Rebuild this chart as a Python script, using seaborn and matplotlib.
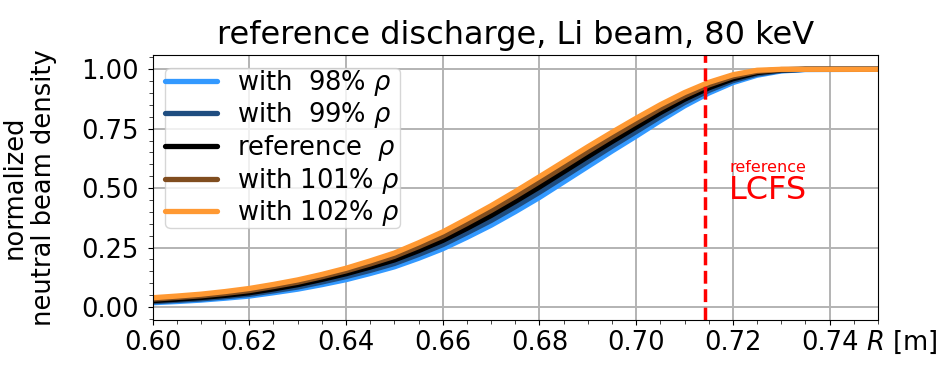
import numpy as np
import pandas as pd
import seaborn as sns
import matplotlib.pyplot as plt

# major radius [m]
R = [0.600, 0.605, 0.610, 0.615, 0.620, 0.625, 0.630, 0.635, 0.640, 0.645,
     0.650, 0.655, 0.660, 0.665, 0.670, 0.675, 0.680, 0.685, 0.690, 0.695,
     0.700, 0.705, 0.710, 0.715, 0.720, 0.725, 0.730, 0.735, 0.750]

# normalized neutral beam density
dens_98 = [0.018, 0.023, 0.029, 0.037, 0.046, 0.060, 0.075, 0.094, 0.115, 0.141,
           0.169, 0.205, 0.245, 0.293, 0.344, 0.401, 0.461, 0.526, 0.591, 0.656,
           0.719, 0.784, 0.846, 0.900, 0.944, 0.975, 0.993, 0.999, 1.000]
dens_99 = [0.022, 0.028, 0.034, 0.043, 0.053, 0.068, 0.084, 0.105, 0.128, 0.154,
           0.183, 0.221, 0.262, 0.312, 0.364, 0.422, 0.483, 0.547, 0.612, 0.676,
           0.738, 0.801, 0.860, 0.911, 0.952, 0.980, 0.995, 1.000, 1.000]
dens_ref = [0.027, 0.033, 0.040, 0.049, 0.060, 0.076, 0.094, 0.116, 0.140, 0.168,
            0.198, 0.237, 0.280, 0.331, 0.385, 0.444, 0.505, 0.569, 0.633, 0.696,
            0.757, 0.818, 0.874, 0.922, 0.960, 0.986, 0.998, 1.000, 1.000]
dens_101 = [0.033, 0.040, 0.047, 0.057, 0.069, 0.086, 0.104, 0.127, 0.152, 0.181,
            0.213, 0.254, 0.298, 0.351, 0.406, 0.465, 0.527, 0.590, 0.654, 0.716,
            0.776, 0.835, 0.888, 0.934, 0.969, 0.991, 0.999, 1.000, 1.000]
dens_102 = [0.039, 0.046, 0.054, 0.065, 0.078, 0.095, 0.114, 0.137, 0.163, 0.194,
            0.227, 0.270, 0.316, 0.370, 0.426, 0.486, 0.548, 0.611, 0.674, 0.735,
            0.794, 0.851, 0.902, 0.945, 0.977, 0.996, 1.000, 1.000, 1.000]

labels = ['with  98% $\\rho$', 'with  99% $\\rho$', 'reference  $\\rho$',
          'with 101% $\\rho$', 'with 102% $\\rho$']
colors = ['#3399ff', '#1f4d80', '#000000', '#804d1f', '#ff9933']
lcfs = 0.7142

df = pd.concat([pd.DataFrame({'R': R, 'n': d, 'case': lab})
                for d, lab in zip([dens_98, dens_99, dens_ref, dens_101, dens_102], labels)])

sns.set_style('ticks')
plt.rcParams['font.family'] = ['DejaVu Sans']
plt.rcParams['mathtext.fontset'] = 'dejavusans'
plt.rcParams['text.color'] = 'black'
plt.rcParams['axes.labelcolor'] = 'black'

fig = plt.figure(figsize=(9.42, 3.77), dpi=100)
ax = fig.add_axes([0.162, 0.151, 0.770, 0.703])

sns.lineplot(data=df, x='R', y='n', hue='case', hue_order=labels,
             palette=dict(zip(labels, colors)), estimator=None, sort=True,
             linewidth=3.8, ax=ax)

ax.axvline(lcfs, color='red', ls='--', lw=2.5)
ax.text(0.7273, 0.585, 'reference', color='red', fontsize=11.5, ha='center', va='center')
ax.text(0.7273, 0.49, 'LCFS', color='red', fontsize=23, ha='center', va='center')

ax.set_xlim(0.60, 0.75)
ax.set_ylim(-0.055, 1.06)
ax.set_xticks([0.60, 0.62, 0.64, 0.66, 0.68, 0.70, 0.72, 0.74])
ax.set_yticks([0.0, 0.25, 0.5, 0.75, 1.0])
ax.minorticks_on()
ax.grid(True, which='major', color='#b3b3b3', lw=1.4)
ax.tick_params(labelsize=18.5, colors='black')
ax.tick_params(axis='y', which='major', pad=6.5)
ax.tick_params(which='minor', length=3)
for s in ax.spines.values():
    s.set_color('black')

ax.set_xlabel('')
ax.set_ylabel('normalized\nneutral beam density', fontsize=18.5, labelpad=17)
ax.text(0.983, -0.035, '$R$ [m]', transform=ax.transAxes, fontsize=18.5,
        ha='left', va='top')
ax.set_title('reference discharge, Li beam, 80 keV', fontsize=23, pad=8)

ax.legend(loc='upper left', fontsize=18.5, labelspacing=0.1, borderpad=0.0,
          handlelength=2.0, framealpha=0.8)

fig.savefig('out.png', dpi=100)
